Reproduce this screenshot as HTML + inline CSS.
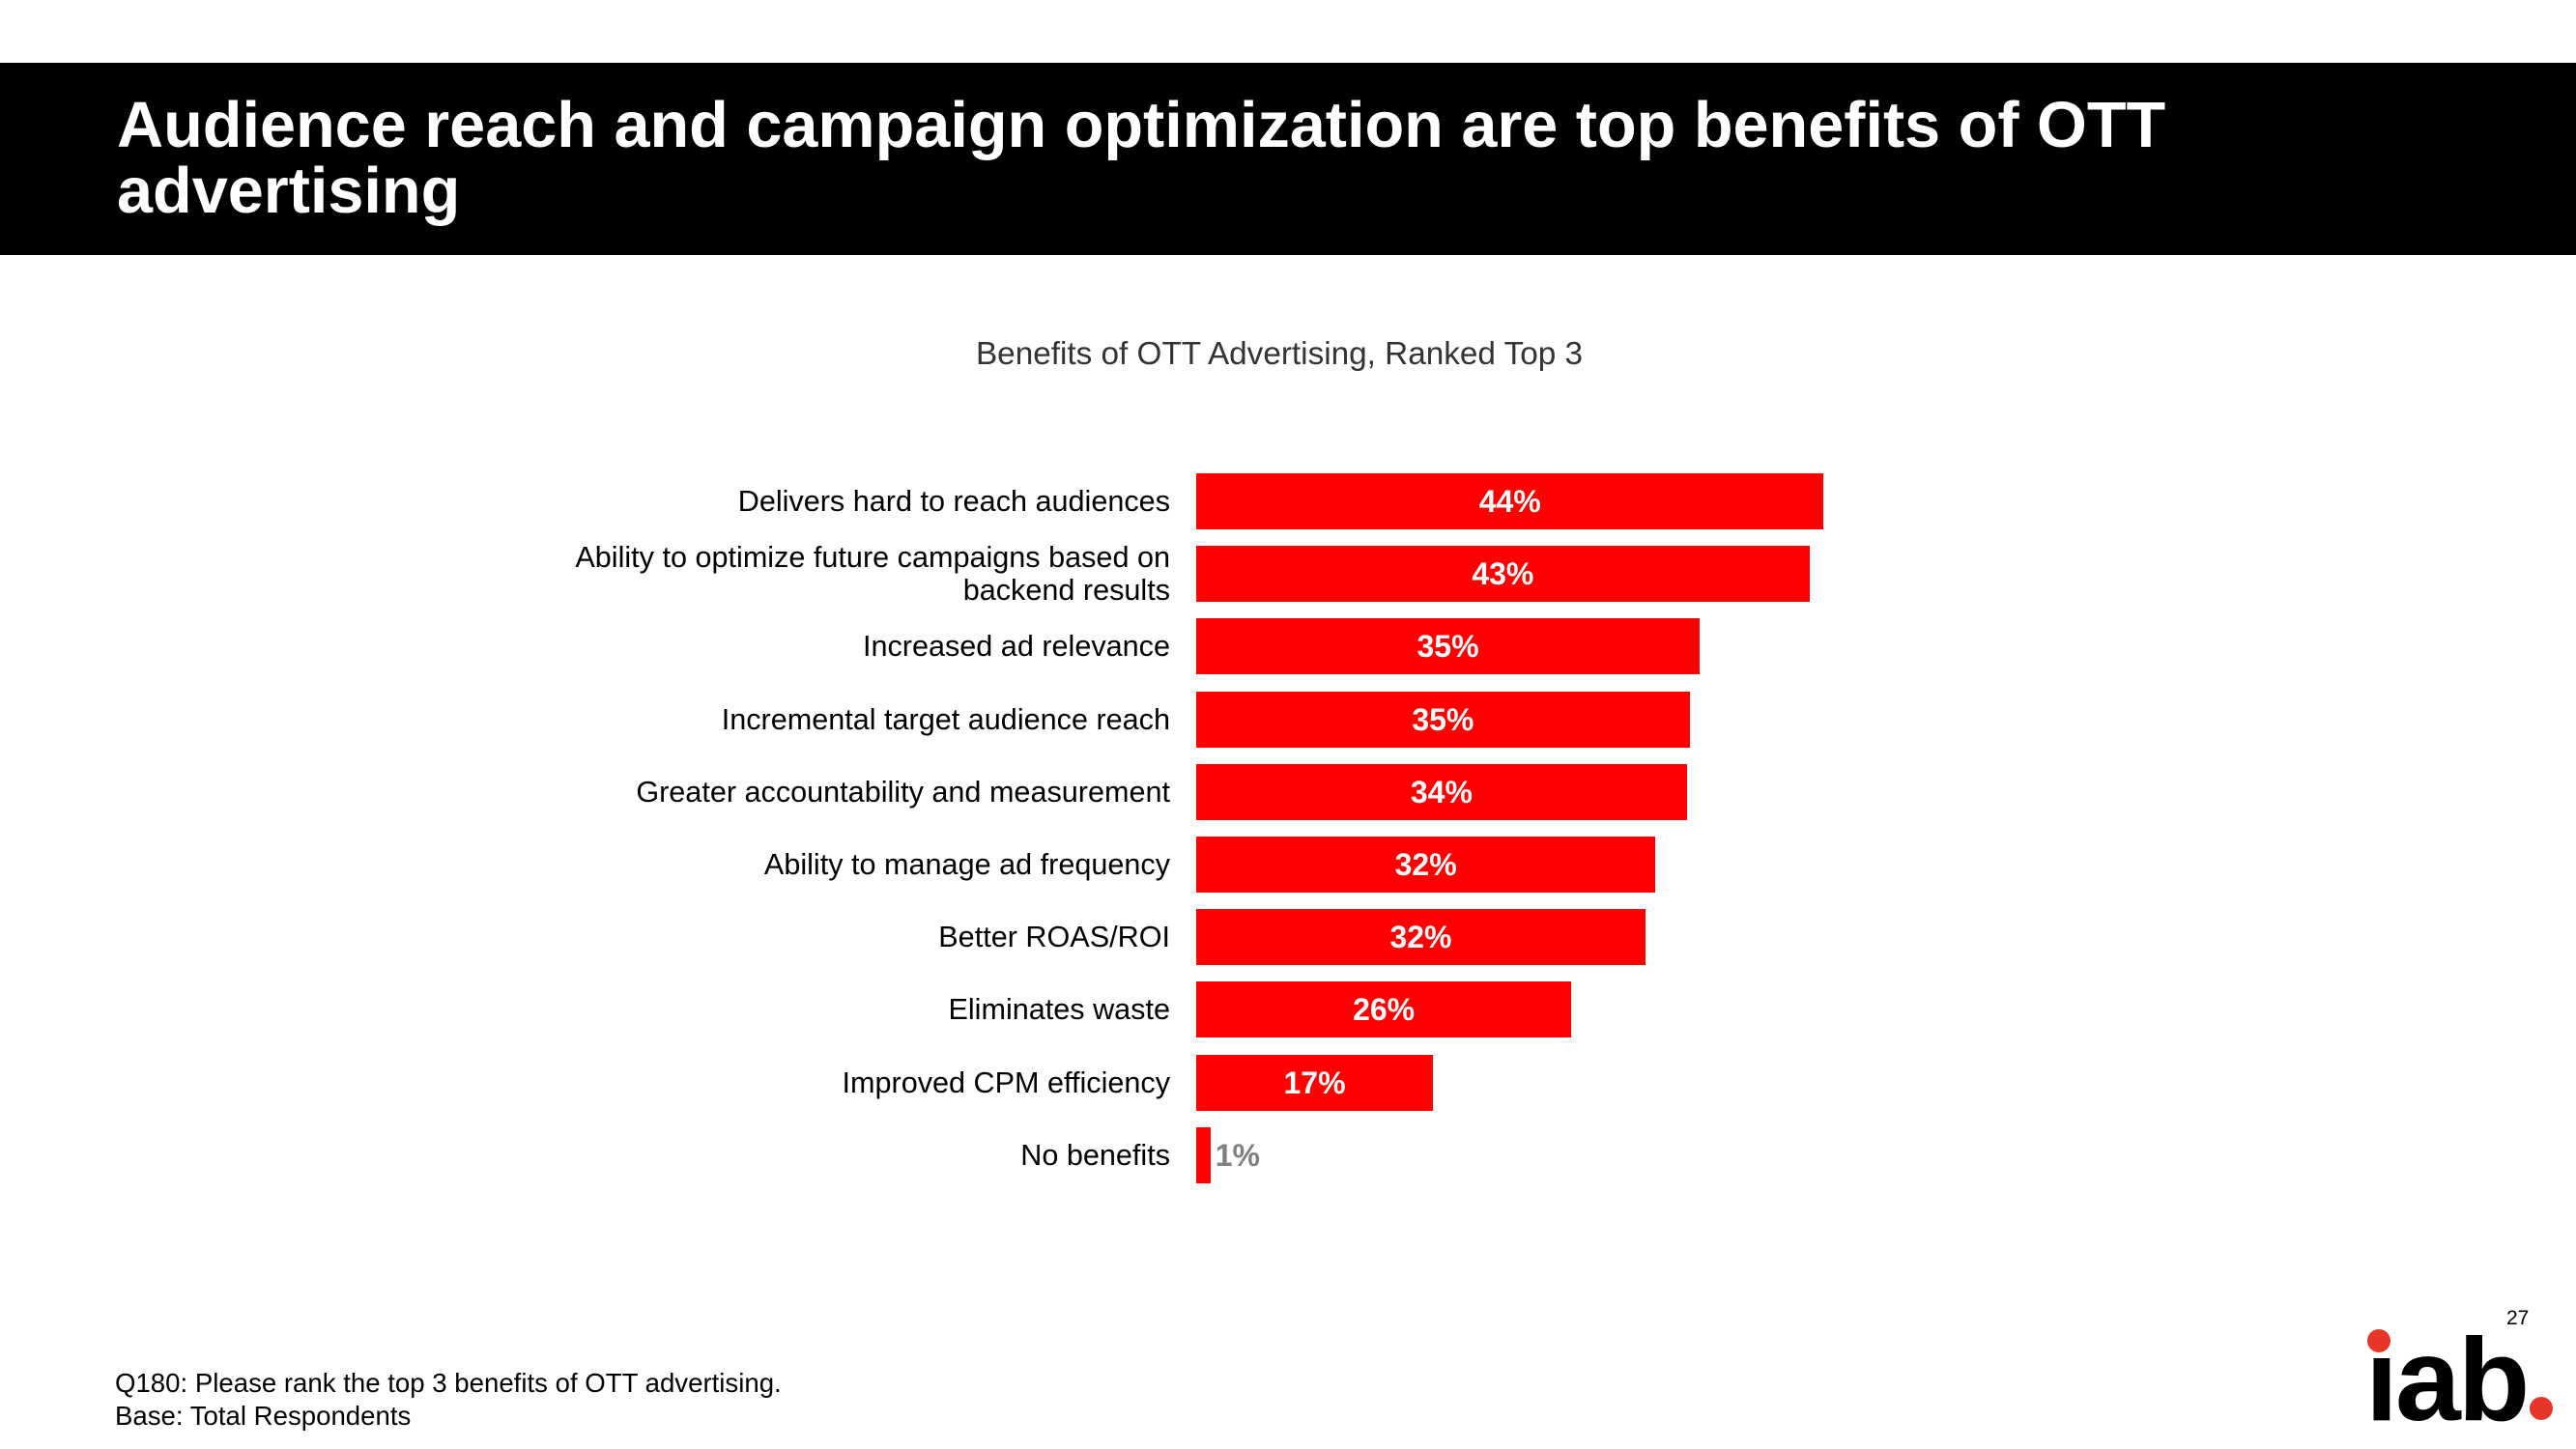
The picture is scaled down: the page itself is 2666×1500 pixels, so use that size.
<!DOCTYPE html>
<html><head><meta charset="utf-8"><style>
body{margin:0;width:2666px;height:1500px;background:#fff;position:relative;overflow:hidden;font-family:"Liberation Sans",Arial,sans-serif}
#hdr{position:absolute;left:0;top:65px;width:2666px;height:199px;background:#000}
#title{position:absolute;left:121px;top:96px;color:#fff;font-weight:bold;font-size:66.6px;line-height:68px;margin:0}
#ctitle{position:absolute;left:0;width:2648px;text-align:center;top:348px;font-size:33.3px;color:#333}
.lbl{position:absolute;right:1455px;font-size:30.6px;color:#000;text-align:right;line-height:34px}
.foot{position:absolute;left:119px;font-size:27.6px;color:#000}
</style></head><body>
<div id="hdr"></div>
<h1 id="title">Audience reach and campaign optimization are top benefits of OTT<br>advertising</h1>
<div id="ctitle">Benefits of OTT Advertising, Ranked Top 3</div>
<div id="chart"></div>
<div class="foot" style="top:1416px">Q180: Please rank the top 3 benefits of OTT advertising.</div>
<div class="foot" style="top:1450px">Base: Total Respondents</div>
<div style="position:absolute;left:2594px;top:1353px;font-size:21px">27</div>
<svg style="position:absolute;left:2420px;top:1340px" width="246" height="150">
<text x="28" y="130" font-family="Liberation Sans" font-weight="bold" font-size="122" letter-spacing="-3" fill="#000">iab</text>
<rect x="28" y="20" width="30" height="40" fill="#fff"/>
<circle cx="42" cy="48" r="12" fill="#e8352a"/>
<circle cx="210" cy="118" r="12" fill="#e8352a"/>
</svg>
<script>
const categories=["Delivers hard to reach audiences","Ability to optimize future campaigns based on<br>backend results","Increased ad relevance","Incremental target audience reach","Greater accountability and measurement","Ability to manage ad frequency","Better ROAS/ROI","Eliminates waste","Improved CPM efficiency","No benefits"];
const values=[44,43,35.3,34.6,34.4,32.2,31.5,26.3,16.6,1];
const valueLabels=["44%","43%","35%","35%","34%","32%","32%","26%","17%","1%"];
const x0=1238,pxPer=14.76,top0=490,pitch=75.2,bh=58;
function xScale(v){return v*pxPer;}
function yScale(i){return top0+i*pitch;}
const chart=document.getElementById('chart');
categories.forEach((c,i)=>{
  const y=yScale(i),w=xScale(values[i]);
  const b=document.createElement('div');
  
  
  b.style.cssText=`position:absolute;left:${x0}px;top:${y}px;width:${w}px;height:${bh}px;background:#ff0000`;
  chart.appendChild(b);
  const l=document.createElement('div');
  
  
  l.className='lbl';
  l.innerHTML=c;
  const lines=c.includes('<br>')?2:1;
  l.style.top=(y+bh/2-17*lines)+'px';
  chart.appendChild(l);
  const v=document.createElement('div');
  
  
  const inside=w>100;
  v.textContent=valueLabels[i];
  v.style.cssText=`position:absolute;top:${y+11}px;font-size:32px;font-weight:bold;line-height:36px;color:${inside?'#fff':'#808080'};`+(inside?`left:${x0}px;width:${w}px;text-align:center`:`left:${x0+w+5}px`);
  chart.appendChild(v);
});
</script>
</body></html>
